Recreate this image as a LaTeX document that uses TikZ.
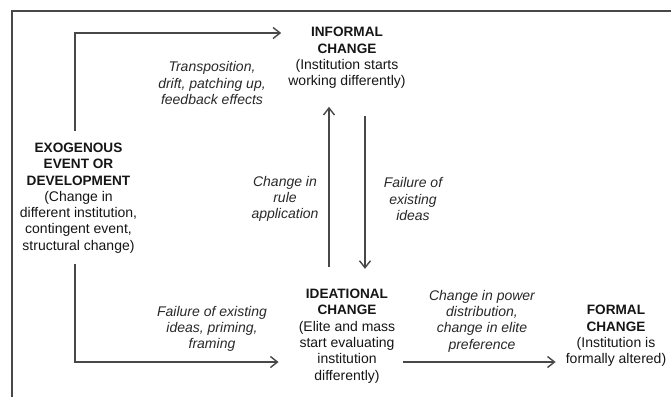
\documentclass[tikz,border=0pt]{standalone}
\usepackage{fontspec}
\setmainfont{Liberation Sans}
\usetikzlibrary{arrows.meta}
\definecolor{ink}{HTML}{151515}
\definecolor{wire}{HTML}{484848}
\newcommand{\blocktitle}[1]{{\bfseries\fontsize{13.6}{16.3}\selectfont #1}}
\begin{document}
\begin{tikzpicture}[x=1pt,y=-1pt,
  block/.style={align=center, inner sep=4pt, text=ink,
    font=\fontsize{14}{16.3}\selectfont},
  cue/.style={align=center, inner sep=2pt, text=ink!92,
    font=\fontsize{14}{16.3}\selectfont\itshape},
  wireline/.style={draw=wire, line width=1.5pt},
  flow/.style={wireline, -{Straight Barb[length=7pt,width=11pt,line width=1.4pt]}}]
\useasboundingbox (0,0) rectangle (671,397);

% outer frame (top and left edges)
\draw[wireline] (671,11) -- (12,11) -- (12,397);

% main blocks
\node[block] (exo) at (78.5,198) {\blocktitle{EXOGENOUS}\\\blocktitle{EVENT OR}\\\blocktitle{DEVELOPMENT}\\(Change in\\different institution,\\contingent event,\\structural change)};
\node[block] (informal) at (347,58) {\blocktitle{INFORMAL}\\\blocktitle{CHANGE}\\(Institution starts\\working differently)};
\node[block] (ideational) at (347,336) {\blocktitle{IDEATIONAL}\\\blocktitle{CHANGE}\\(Elite and mass\\start evaluating\\institution\\differently)};
\node[block] (formal) at (616,336) {\blocktitle{FORMAL}\\\blocktitle{CHANGE}\\(Institution is\\formally altered)};

% mechanism labels
\node[cue] (transp) at (212,83) {Transposition,\\drift, patching up,\\feedback effects};
\node[cue] (ruleapp) at (285,199) {Change in\\rule\\application};
\node[cue] (failA) at (413,199) {Failure of\\existing\\ideas};
\node[cue] (failB) at (212,329) {Failure of existing\\ideas, priming,\\framing};
\node[cue] (power) at (482,321) {Change in power\\distribution,\\change in elite\\preference};

% connectors
\draw[flow, shorten <=8pt, shorten >=3pt]
  ([xshift=-3.5pt]exo.north) |- ([yshift=25pt]informal.west);
\draw[flow, shorten <=7pt, shorten >=16pt]
  ([xshift=-3.5pt]exo.south) |- ([yshift=-26pt]ideational.west);
\draw[flow, shorten <=18pt, shorten >=14pt]
  ([xshift=-18pt]ideational.north) -- ([xshift=-18pt]informal.south);
\draw[flow, shorten <=23pt, shorten >=16pt]
  ([xshift=18pt]informal.south) -- ([xshift=18pt]ideational.north);
\draw[flow, shorten <=4pt, shorten >=6pt]
  ([yshift=-26pt]ideational.east) -- ([yshift=-26pt]ideational.east -| formal.west);
\end{tikzpicture}
\end{document}
